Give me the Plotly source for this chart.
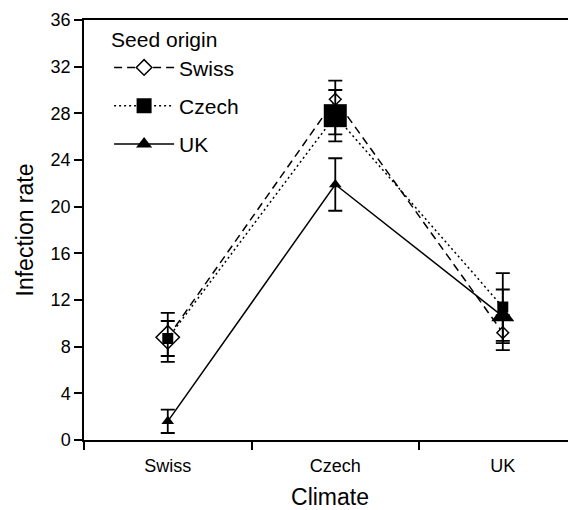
import plotly.graph_objects as go

climates = ["Swiss", "Czech", "UK"]

swiss_vals = [8.8, 29.2, 9.2]
swiss_err_plus = [2.1, 1.6, 1.5]
swiss_err_minus = [2.1, 3.0, 1.5]

czech_vals = [8.7, 27.8, 11.4]
czech_err_plus = [1.5, 2.2, 2.9]
czech_err_minus = [1.5, 2.2, 2.9]

uk_vals = [1.6, 21.9, 10.6]
uk_err_plus = [1.0, 2.25, 2.3]
uk_err_minus = [1.0, 2.25, 2.3]

y_ticks = [0, 4, 8, 12, 16, 20, 24, 28, 32, 36]

font_family = "Liberation Sans, Arial, sans-serif"

fig = go.Figure()

def err(plus, minus):
    return dict(type="data", symmetric=False, array=plus, arrayminus=minus,
                color="black", thickness=1.8, width=7)

fig.add_trace(go.Scatter(
    x=climates, y=swiss_vals, name="Swiss", mode="lines+markers",
    line=dict(color="black", width=1.5, dash="8px,5px"),
    marker=dict(symbol="diamond", size=[18, 9, 9], color="white", opacity=1,
                line=dict(color="black", width=1.5)),
    error_y=err(swiss_err_plus, swiss_err_minus),
    legendgroup="a",
))
fig.add_trace(go.Scatter(
    x=climates, y=czech_vals, name="Czech", mode="lines+markers",
    line=dict(color="black", width=1.5, dash="2px,3px"),
    marker=dict(symbol="square", size=[11, 23, 11], color="black", opacity=1,
                line=dict(color="black", width=0)),
    error_y=err(czech_err_plus, czech_err_minus),
    legendgroup="b",
))
fig.add_trace(go.Scatter(
    x=climates, y=uk_vals, name="UK", mode="lines+markers",
    line=dict(color="black", width=1.5),
    marker=dict(symbol="triangle-up", size=[11, 11, 20], color="black", opacity=1,
                line=dict(color="black", width=0)),
    error_y=err(uk_err_plus, uk_err_minus),
    legendgroup="c",
))

fig.update_layout(
    width=568, height=502,
    margin=dict(l=76, r=0, t=12, b=70),
    paper_bgcolor="white", plot_bgcolor="white",
    font=dict(family=font_family, size=18, color="black"),
    showlegend=True,
    legend=dict(
        x=0.051, y=1.0, xanchor="left", yanchor="top",
        title=dict(text="Seed origin", font=dict(size=21)),
        font=dict(size=21),
        bgcolor="rgba(0,0,0,0)",
        traceorder="grouped", tracegroupgap=8,
        itemsizing="trace", itemwidth=60,
    ),
    xaxis=dict(
        type="category", categoryorder="array", categoryarray=climates,
        range=[-0.5, 2.437], tickson="boundaries",
        showline=True, linecolor="black", linewidth=1.5, mirror=True,
        ticks="outside", ticklen=8, tickcolor="black", tickwidth=1.5,
        showgrid=False, zeroline=False, automargin=False,
        tickfont=dict(size=18), ticklabelstandoff=9,
        title=dict(text="Climate", font=dict(size=23), standoff=21),
    ),
    yaxis=dict(
        range=[0, 36], tickvals=y_ticks,
        showline=True, linecolor="black", linewidth=1.5,
        ticks="outside", ticklen=8, tickcolor="black", tickwidth=1.5,
        showgrid=False, zeroline=False, automargin=False,
        tickfont=dict(size=18),
        title=dict(text="Infection rate", font=dict(size=23), standoff=11),
    ),
)

fig.write_html("out.html")
